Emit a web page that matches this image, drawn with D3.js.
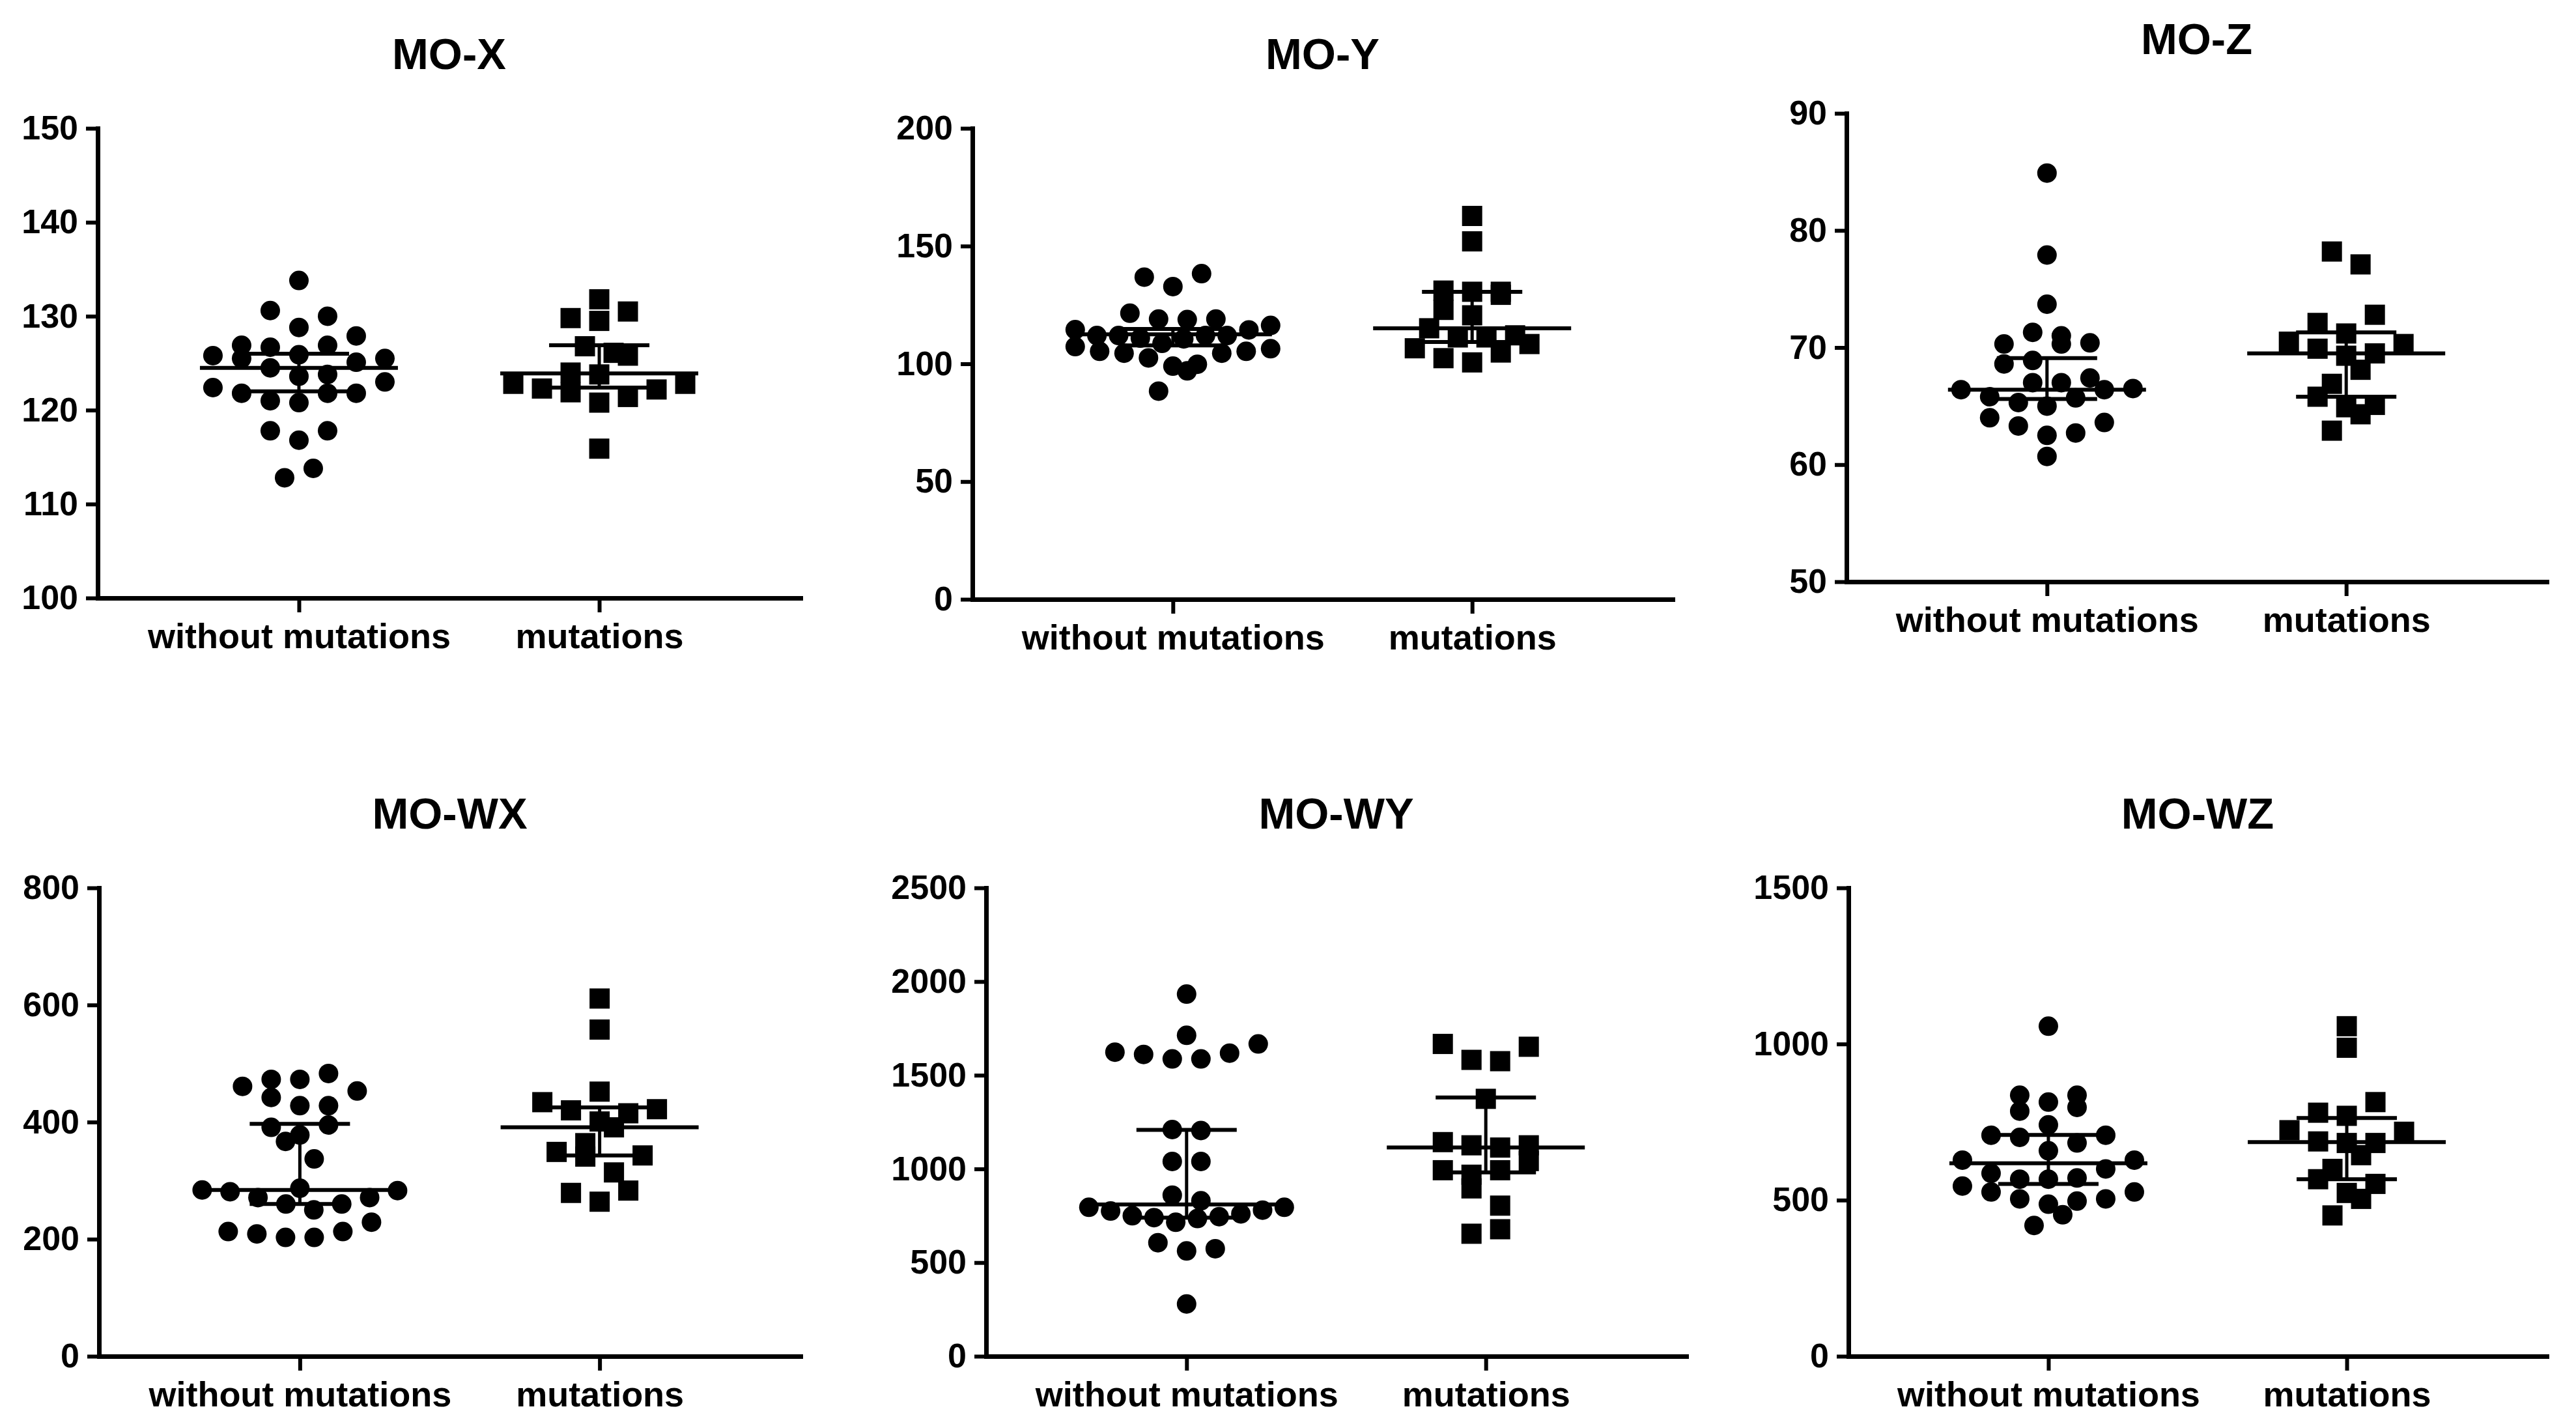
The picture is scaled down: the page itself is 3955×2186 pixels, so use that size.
<!DOCTYPE html>
<html>
<head>
<meta charset="utf-8">
<script src="https://cdn.jsdelivr.net/npm/d3@7"></script>
<style>
  body { margin: 0; background: #fff; }
  text { font-family: "Liberation Sans", Arial, sans-serif; font-weight: bold; fill: #000; }
</style>
</head>
<body>
<div id="chart"></div>
<script>
// groups on the x axis
var categories = ["without mutations", "mutations"];

// MO-X
var moXWithout = [133.8, 130.0, 130.6, 128.8, 127.9, 126.7, 126.9, 126.9, 125.8, 125.5, 125.5, 125.9, 125.1, 124.5,
                  123.8, 123.0, 123.6, 121.8, 121.8, 121.8, 122.4, 120.8, 121.0, 117.8, 117.8, 116.8, 113.8, 112.8];
var moXMutations = [131.8, 129.8, 129.5, 130.5, 126.1, 126.8, 125.8, 124.0, 123.8, 122.8, 122.2, 121.4, 120.8,
                    121.9, 122.3, 122.8, 115.9];
var moXMedian = [124.5, 123.9], moXLow = [122.0, 122.4], moXHigh = [126.0, 126.9];
var moXTicks = [100, 110, 120, 130, 140, 150];

// MO-Y
var moYWithout = [136.8, 132.8, 138.3, 121.5, 118.8, 116.3, 114.4, 114.5, 119.0, 119.0,
                  112.0, 112.0, 110.6, 107.3, 105.3, 106.4, 104.5, 102.5, 104.5, 105.3, 108.7, 110.9, 112.0, 112.0,
                  99.0, 99.8, 97.0, 88.4];
var moYMutations = [162.8, 152.0, 130.6, 129.3, 130.6, 131.1, 122.9, 120.6, 115.1, 111.2, 108.4, 104.8, 100.6,
                    102.4, 106.6, 111.2, 112.1];
var moYMedian = [112.5, 115.1], moYLow = [107.8, 109.3], moYHigh = [114.8, 130.6];
var moYTicks = [0, 50, 100, 150, 200];

// MO-Z
var moZWithout = [84.9, 77.9, 73.7, 71.0, 71.3, 70.3, 70.3, 70.4, 68.9, 68.6, 67.0, 66.5, 66.4, 65.7, 65.8, 66.4,
                  67.0, 67.4, 65.0, 65.3, 63.6, 62.7, 63.3, 64.0, 62.5, 60.7];
var moZMutations = [78.2, 77.1, 72.8, 72.1, 71.2, 70.3, 70.5, 69.9, 69.3, 69.5, 68.1, 66.9, 65.8, 64.9, 65.1,
                    64.3, 62.9];
var moZMedian = [66.4, 69.5], moZLow = [65.6, 65.8], moZHigh = [69.1, 71.3];
var moZTicks = [50, 60, 70, 80, 90];

// MO-WX
var moWXWithout = [473, 461, 442, 428, 453, 473, 483, 428, 395, 391, 378, 367, 337, 287, 283, 271, 260, 260,
                   271, 281, 284, 250, 213, 209, 203, 203, 213, 229];
var moWXMutations = [611, 558, 452, 422, 415, 420, 434, 391, 401, 364, 343, 341, 349, 314, 283, 279, 264];
var moWXMedian = [284, 391], moWXLow = [260, 343], moWXHigh = [397, 425];
var moWXTicks = [0, 200, 400, 600, 800];

// MO-WY
var moWYWithout = [1933, 1667, 1618, 1587, 1587, 1611, 1623, 1713, 1205, 1210, 1040, 1040, 860, 830,
                   795, 775, 715, 750, 735, 745, 740, 760, 780, 795, 574, 562, 606, 279];
var moWYMutations = [1667, 1582, 1575, 1652, 1374, 1126, 1114, 1143, 1126, 1042, 993, 969, 993, 896, 804, 654, 678];
var moWYMedian = [810, 1114], moWYLow = [740, 981], moWYHigh = [1208, 1381];
var moWYTicks = [0, 500, 1000, 1500, 2000, 2500];

// MO-WZ
var moWZWithout = [1057, 814, 836, 836, 785, 797, 708, 701, 708, 741, 683, 658, 628, 628, 600, 571, 567, 567,
                   586, 526, 526, 545, 504, 487, 497, 504, 453, 419];
var moWZMutations = [1057, 988, 814, 780, 770, 719, 724, 683, 683, 688, 644, 600, 567, 552, 523, 504, 451];
var moWZMedian = [618, 686], moWZLow = [552, 567], moWZHigh = [709, 763];
var moWZTicks = [0, 500, 1000, 1500];

var width = 3955, height = 2186;

var svg = d3.select("#chart").append("svg")
  .attr("width", width)
  .attr("height", height)
  .style("display", "block")
  .style("background", "#fff");

// panel frames: y axis x, top tick y, bottom y, right end of x axis
var panels = [
  { title: "MO-X",  groups: [moXWithout, moXMutations],   med: moXMedian,  lo: moXLow,  hi: moXHigh,  ticks: moXTicks,  left: 150,  top: 197,  bottom: 918,  right: 1229 },
  { title: "MO-Y",  groups: [moYWithout, moYMutations],   med: moYMedian,  lo: moYLow,  hi: moYHigh,  ticks: moYTicks,  left: 1493, top: 197,  bottom: 920,  right: 2568 },
  { title: "MO-Z",  groups: [moZWithout, moZMutations],   med: moZMedian,  lo: moZLow,  hi: moZHigh,  ticks: moZTicks,  left: 2835, top: 174,  bottom: 893,  right: 3910 },
  { title: "MO-WX", groups: [moWXWithout, moWXMutations], med: moWXMedian, lo: moWXLow, hi: moWXHigh, ticks: moWXTicks, left: 152,  top: 1363, bottom: 2082, right: 1229 },
  { title: "MO-WY", groups: [moWYWithout, moWYMutations], med: moWYMedian, lo: moWYLow, hi: moWYHigh, ticks: moWYTicks, left: 1514, top: 1363, bottom: 2082, right: 2589 },
  { title: "MO-WZ", groups: [moWZWithout, moWZMutations], med: moWZMedian, lo: moWZLow, hi: moWZHigh, ticks: moWZTicks, left: 2838, top: 1363, bottom: 2082, right: 3910 }
];

var rowH = 32, maxSpace = 44, maxSpread = 300;

// column scatter: points close in value share a row, spread out from the centre
function swarm(values, y, cx) {
  var pts = values.map(function(v) { return { v: v, y: y(v) }; })
    .sort(function(a, b) { return b.y - a.y; });
  var rows = [], cur = null;
  pts.forEach(function(p) {
    if (cur && cur[0].y - p.y < rowH) cur.push(p);
    else { cur = [p]; rows.push(cur); }
  });
  rows.forEach(function(row, r) {
    var n = row.length;
    var sp = n > 1 ? Math.min(maxSpace, maxSpread / (n - 1)) : 0;
    var side = r % 2 ? 1 : -1;
    row.forEach(function(p, k) {
      var slot;
      if (n % 2) slot = Math.ceil(k / 2) * (k % 2 ? side : -side);
      else slot = (Math.floor(k / 2) + 0.5) * (k % 2 ? -side : side);
      p.x = cx + slot * sp;
    });
  });
  return pts;
}

panels.forEach(drawPanel);

function drawPanel(p) {
  var g = svg.append("g");

  var y = d3.scaleLinear()
    .domain([p.ticks[0], p.ticks[p.ticks.length - 1]])
    .range([p.bottom, p.top]);

  var x = d3.scalePoint()
    .domain(categories)
    .range([p.left, p.right])
    .padding(0.67);

  // title
  g.append("text")
    .attr("x", (p.left + p.right) / 2)
    .attr("y", p.top - 114)
    .attr("dy", "0.35em")
    .style("text-anchor", "middle")
    .style("font-size", "67px")
    .text(p.title);

  // median and quartile bars
  var half = 152, cap = 77;
  categories.forEach(function(c, i) {
    var cx = x(c);
    g.append("line")
      .attr("x1", cx - half).attr("x2", cx + half)
      .attr("y1", y(p.med[i])).attr("y2", y(p.med[i]))
      .attr("stroke", "#000").attr("stroke-width", 6);
    g.append("line")
      .attr("x1", cx).attr("x2", cx)
      .attr("y1", y(p.lo[i])).attr("y2", y(p.hi[i]))
      .attr("stroke", "#000").attr("stroke-width", 5);
    [p.lo[i], p.hi[i]].forEach(function(v) {
      g.append("line")
        .attr("x1", cx - cap).attr("x2", cx + cap)
        .attr("y1", y(v)).attr("y2", y(v))
        .attr("stroke", "#000").attr("stroke-width", 6);
    });
  });

  // points
  var shapes = [d3.symbol(d3.symbolCircle, Math.PI * 15 * 15), d3.symbol(d3.symbolSquare, 31 * 31)];
  categories.forEach(function(c, i) {
    g.selectAll(".pt" + i)
      .data(swarm(p.groups[i], y, x(c)))
      .enter().append("path")
      .attr("class", "pt" + i)
      .attr("transform", function(d) { return "translate(" + d.x + "," + d.y + ")"; })
      .attr("d", shapes[i]())
      .attr("fill", "#000");
  });

  // Y axis
  var yAxis = g.append("g")
    .attr("transform", "translate(" + p.left + ",0)")
    .call(d3.axisLeft(y).tickValues(p.ticks).tickSize(18).tickPadding(12).tickSizeOuter(0).tickFormat(d3.format("d")));

  // X axis
  var xAxis = g.append("g")
    .attr("transform", "translate(0," + p.bottom + ")")
    .call(d3.axisBottom(x).tickSize(22).tickPadding(17).tickSizeOuter(0));

  [yAxis, xAxis].forEach(function(a) {
    a.select(".domain").attr("stroke", "#000").attr("stroke-width", 7).attr("stroke-linecap", "square");
    a.selectAll(".tick line").attr("stroke", "#000").attr("stroke-width", 6);
    a.selectAll(".tick text").attr("fill", "#000").style("font-family", "'Liberation Sans', Arial, sans-serif");
  });
  yAxis.selectAll(".tick text").style("font-size", "52px");
  xAxis.selectAll(".tick text").style("font-size", "54px");
}
</script>
</body>
</html>
